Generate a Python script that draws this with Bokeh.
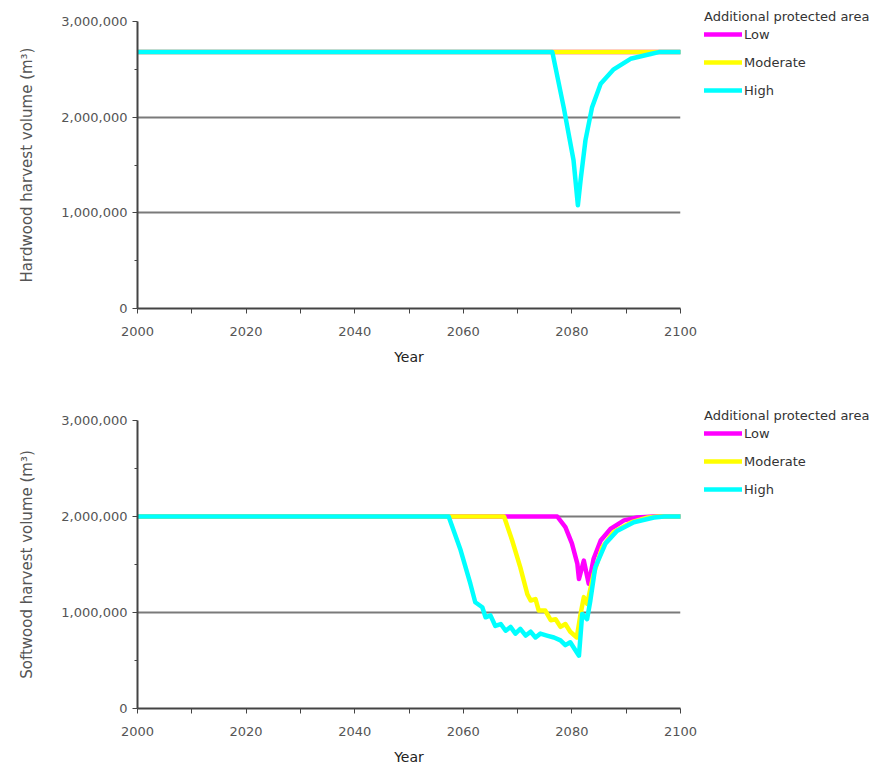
from bokeh.plotting import figure
from bokeh.layouts import column
from bokeh.models import (FixedTicker, NumeralTickFormatter, Legend, LegendItem, Range1d)
from bokeh.embed import file_html
from bokeh.resources import INLINE

# ---------------- data ----------------
scenario_names = ["Low", "Moderate", "High"]
colors = ["#FF00FF", "#FFFF00", "#00FFFF"]

# Hardwood harvest volume (m3)
hw_low_years = [2000, 2100]
hw_low_vals = [2680000, 2680000]
hw_mod_years = [2000, 2100]
hw_mod_vals = [2680000, 2680000]
hw_high_years = [2000, 2076.4, 2078.5, 2080.3, 2081.1, 2081.6, 2082.5, 2083.7, 2085.3,
                 2087.7, 2090.8, 2094.5, 2096, 2100]
hw_high_vals = [2680000, 2680000, 2100000, 1550000, 1080000, 1340000, 1760000, 2100000, 2350000,
                2500000, 2610000, 2660000, 2680000, 2680000]

# Softwood harvest volume (m3)
sw_low_years = [2000, 2077.3, 2078.8, 2080.0, 2081.0, 2081.3, 2082.2, 2083.1, 2084.0, 2085.3,
                2087.1, 2089.6, 2092, 2095, 2100]
sw_low_vals = [2000000, 2000000, 1890000, 1720000, 1510000, 1350000, 1540000, 1300000, 1560000, 1750000,
               1870000, 1960000, 1990000, 2000000, 2000000]
sw_mod_years = [2000, 2067.5, 2069.0, 2070.5, 2071.8, 2072.4, 2073.3, 2073.9, 2075.1, 2076.1, 2077.0,
                2077.9, 2078.8, 2079.7, 2080.9, 2081.6, 2082.2, 2082.8, 2084.0, 2085.6, 2087.7, 2091,
                2094, 2096, 2100]
sw_mod_vals = [2000000, 2000000, 1750000, 1470000, 1190000, 1125000, 1140000, 1020000, 1020000, 920000, 930000,
               850000, 880000, 800000, 740000, 985000, 1160000, 1090000, 1400000, 1680000, 1840000, 1940000,
               1990000, 2000000, 2000000]
sw_high_years = [2000, 2057.3, 2059.5, 2061.3, 2062.2, 2063.5, 2064.1, 2065.0, 2065.9, 2066.9, 2067.8,
                 2068.7, 2069.6, 2070.5, 2071.5, 2072.4, 2073.3, 2074.2, 2075.4, 2076.7, 2077.9, 2078.8,
                 2079.7, 2081.3, 2081.9, 2082.8, 2083.4, 2084.3, 2086.2, 2088.3, 2091.4, 2095.1, 2097,
                 2100]
sw_high_vals = [2000000, 2000000, 1650000, 1300000, 1107000, 1055000, 950000, 970000, 860000, 880000, 810000,
                850000, 780000, 830000, 760000, 800000, 740000, 780000, 760000, 740000, 710000, 660000,
                690000, 550000, 985000, 930000, 1125000, 1470000, 1720000, 1850000, 1940000, 1990000, 2000000,
                2000000]

y_ticks = [0, 1000000, 2000000, 3000000]
y_minor = [500000, 1500000, 2500000]
x_ticks = [2000, 2020, 2040, 2060, 2080, 2100]
x_minor = [2010, 2030, 2050, 2070, 2090]

FONT = "DejaVu Sans"


def make_panel(ylabel, series, border_top, frame_h, border_bottom, legend_y):
    p = figure(frame_width=543, frame_height=frame_h,
               x_range=Range1d(2000, 2100), y_range=Range1d(0, 3000000),
               output_backend="svg", toolbar_location=None,
               min_border_left=137, min_border_right=10,
               min_border_top=border_top, min_border_bottom=border_bottom)
    p.outline_line_color = None
    p.xgrid.grid_line_color = None
    p.ygrid.ticker = FixedTicker(ticks=y_ticks)
    p.ygrid.grid_line_color = "#7a7a7a"
    p.ygrid.grid_line_width = 2

    yax = p.yaxis[0]
    yax.ticker = FixedTicker(ticks=y_ticks, minor_ticks=y_minor)
    yax.formatter = NumeralTickFormatter(format="0,0")
    yax.axis_label = ylabel
    yax.axis_label_text_font = FONT
    yax.axis_label_text_font_style = "normal"
    yax.axis_label_text_font_size = "15px"
    yax.axis_label_text_color = "#555555"
    yax.axis_label_standoff = 22
    yax.major_label_text_font = FONT
    yax.major_label_text_font_size = "13px"
    yax.major_label_text_color = "#555555"
    yax.major_label_standoff = 5
    yax.major_tick_out = 5
    yax.major_tick_in = 0
    yax.minor_tick_out = 3
    yax.minor_tick_in = 0
    yax.axis_line_color = "#444444"
    yax.axis_line_width = 2
    yax.major_tick_line_color = "#444444"
    yax.minor_tick_line_color = "#444444"

    xax = p.xaxis[0]
    xax.ticker = FixedTicker(ticks=x_ticks, minor_ticks=x_minor)
    xax.axis_label = "Year"
    xax.axis_label_text_font = FONT
    xax.axis_label_text_font_style = "normal"
    xax.axis_label_text_font_size = "14px"
    xax.axis_label_text_color = "#222222"
    xax.axis_label_standoff = 10
    xax.major_label_text_font = FONT
    xax.major_label_text_font_size = "13px"
    xax.major_label_text_color = "#555555"
    xax.major_label_standoff = 13
    xax.major_tick_out = 5
    xax.major_tick_in = 0
    xax.minor_tick_out = 5
    xax.minor_tick_in = 0
    xax.axis_line_color = "#444444"
    xax.axis_line_width = 2
    xax.major_tick_line_color = "#444444"
    xax.minor_tick_line_color = "#444444"

    items = []
    for name, color, (xs, ys) in zip(scenario_names, colors, series):
        r = p.line(xs, ys, line_color=color, line_width=4.5, line_join="round", line_cap="round")
        items.append(LegendItem(label=name, renderers=[r]))

    legend = Legend(items=items, location=(24, legend_y),
                    title="Additional protected area",
                    title_text_font=FONT, title_text_font_size="13px",
                    title_text_font_style="normal", title_text_color="#333333",
                    title_standoff=0,
                    label_text_font=FONT, label_text_font_size="13px", label_text_color="#333333",
                    glyph_width=38, glyph_height=20, label_height=20, label_standoff=2,
                    spacing=8, padding=0, margin=0,
                    border_line_color=None, background_fill_alpha=0)
    p.add_layout(legend, "right")
    return p


p1 = make_panel("Hardwood harvest volume (m\u00b3)",
                [(hw_low_years, hw_low_vals), (hw_mod_years, hw_mod_vals), (hw_high_years, hw_high_vals)],
                21, 287, 72, 208)
p2 = make_panel("Softwood harvest volume (m\u00b3)",
                [(sw_low_years, sw_low_vals), (sw_mod_years, sw_mod_vals), (sw_high_years, sw_high_vals)],
                40, 288, 60, 209)

layout = column(p1, p2, spacing=0)
open("out.html", "w").write(file_html(layout, INLINE))
